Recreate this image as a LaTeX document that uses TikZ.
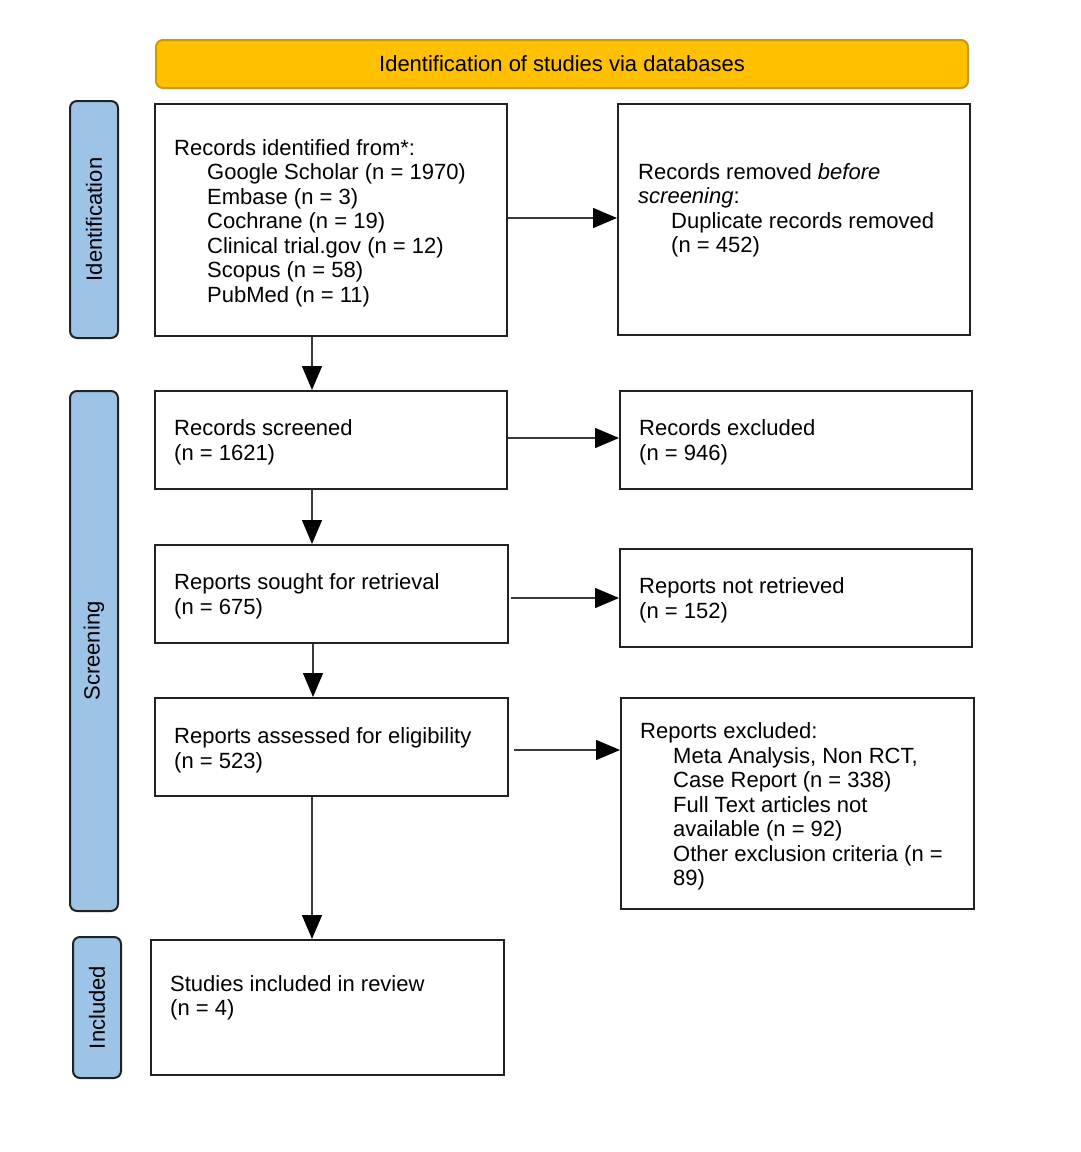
\documentclass[tikz,border=0pt]{standalone}
\usepackage{fontspec}
\setmainfont{Liberation Sans}
\usetikzlibrary{arrows.meta}
\definecolor{hdrfill}{HTML}{FFC000}
\definecolor{hdrdraw}{HTML}{C99A10}
\definecolor{sidefill}{HTML}{9DC3E6}
\definecolor{boxdraw}{HTML}{222222}
\definecolor{arrcol}{HTML}{3A3A3A}
\newcommand{\ind}{\hspace*{33pt}}
\tikzset{
  txt/.style={font=\fontsize{22}{24.5}\selectfont, inner sep=0pt, align=left, anchor=west, text=black},
  flowbox/.style={draw=boxdraw, line width=2pt, fill=white, inner sep=0pt},
  sidebox/.style={draw=boxdraw, line width=2pt, fill=sidefill, rounded corners=7pt, inner sep=0pt},
  hdrbox/.style={draw=hdrdraw, line width=2pt, fill=hdrfill, rounded corners=7pt, inner sep=0pt,
    font=\fontsize{22}{24.5}\selectfont},
  sidetxt/.style={font=\fontsize{22}{24.5}\selectfont, rotate=90, inner sep=0pt},
  arr/.style={draw=arrcol, line width=1.5pt, -{Triangle[length=24pt,width=20pt,color=black]}}
}
\begin{document}
\begin{tikzpicture}[x=1pt,y=-1pt]
\useasboundingbox (0,0) rectangle (1080,1152);
\fill[white] (0,0) rectangle (1080,1152);

% header
\node[hdrbox, minimum width=812pt, minimum height=48pt] (hdr) at (562,64) {Identification of studies via databases};

% side labels
\node[sidebox, minimum width=48pt, minimum height=237pt] (s1) at (94,219.5) {};
\node[sidetxt] (s1t) at (s1.center) {Identification};
\node[sidebox, minimum width=48pt, minimum height=520pt] (s2) at (94,651) {};
\node[sidetxt] (s2t) at (s2.center) {Screening};
\node[sidebox, minimum width=48pt, minimum height=141pt] (s3) at (97,1007.5) {};
\node[sidetxt] (s3t) at (s3.center) {Included};

% boxes
\node[flowbox, minimum width=352pt, minimum height=232pt] (b1) at (331,220) {};
\node[flowbox, minimum width=352pt, minimum height=231pt] (b2) at (794,219.5) {};
\node[flowbox, minimum width=352pt, minimum height=98pt] (b3) at (331,440) {};
\node[flowbox, minimum width=352pt, minimum height=98pt] (b4) at (796,440) {};
\node[flowbox, minimum width=353pt, minimum height=98pt] (b5) at (331.5,594) {};
\node[flowbox, minimum width=352pt, minimum height=98pt] (b6) at (796,598) {};
\node[flowbox, minimum width=353pt, minimum height=98pt] (b7) at (331.5,747) {};
\node[flowbox, minimum width=353pt, minimum height=211pt] (b8) at (797.5,803.5) {};
\node[flowbox, minimum width=353pt, minimum height=135pt] (b9) at (327.5,1007.5) {};

% texts
\node[txt] (t1) at (174,223) {Records identified from*:\\
\ind Google Scholar (n = 1970)\\
\ind Embase (n = 3)\\
\ind Cochrane (n = 19)\\
\ind Clinical trial.gov (n = 12)\\
\ind Scopus (n = 58)\\
\ind PubMed (n = 11)};
\node[txt] (t2) at (638,210.5) {Records removed \textit{before}\\
\textit{screening}:\\
\ind Duplicate records removed\\
\ind (n = 452)};
\node[txt] (t3) at (174,442.5) {Records screened\\(n = 1621)};
\node[txt] (t4) at (639,442.5) {Records excluded\\(n = 946)};
\node[txt] (t5) at (174,596.5) {Reports sought for retrieval\\(n = 675)};
\node[txt] (t6) at (639,600.5) {Reports not retrieved\\(n = 152)};
\node[txt] (t7) at (174,750.5) {Reports assessed for eligibility\\(n = 523)};
\node[txt] (t8) at (640,806.5) {Reports excluded:\\
\ind Meta Analysis, Non RCT,\\
\ind Case Report (n = 338)\\
\ind Full Text articles not\\
\ind available (n = 92)\\
\ind Other exclusion criteria (n =\\
\ind 89)};
\node[txt] (t9) at (170,998) {Studies included in review\\(n = 4)};

% connectors
\draw[arr] ([yshift=2pt]b1.east) -- ([yshift=2pt]b1.east -| b2.west);
\draw[arr] ([yshift=2pt]b3.east) -- ([yshift=2pt]b3.east -| b4.west);
\draw[arr, shorten <=2pt] (b5.east |- b6.west) -- (b6.west);
\draw[arr, shorten <=5pt] ([yshift=-3pt]b7.east) -- ([yshift=-3pt]b7.east -| b8.west);
\draw[arr] ([xshift=158pt]b1.south west) -- ([xshift=158pt]b3.north west);
\draw[arr] ([xshift=158pt]b3.south west) -- ([xshift=158pt]b5.north west);
\draw[arr] ([xshift=159pt]b5.south west) -- ([xshift=159pt]b7.north west);
\draw[arr] ([xshift=158pt]b7.south west) -- ([xshift=162pt]b9.north west);
\end{tikzpicture}
\end{document}
